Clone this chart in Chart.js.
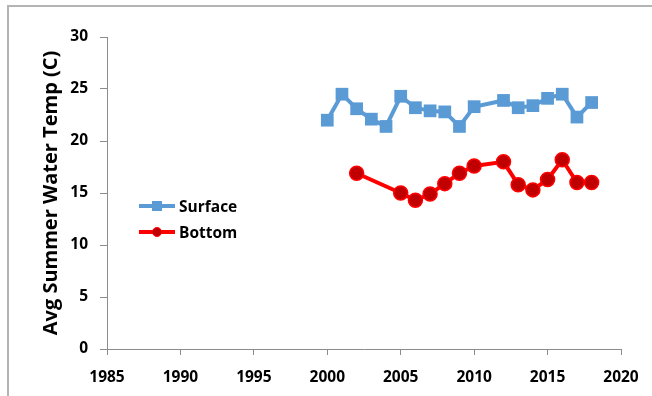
<!DOCTYPE html>
<html>
<head>
<meta charset="utf-8">
<script src="https://cdn.jsdelivr.net/npm/chart.js@4/dist/chart.umd.min.js"></script>
<style>
  html, body { margin: 0; padding: 0; background: #fff; }
  #wrap { position: relative; width: 652px; height: 396px; overflow: hidden; }
  #frame { position: absolute; left: 7px; top: 5px; width: 700px; height: 500px;
           border-top: 2px solid #b4b4b4; border-left: 2px solid #b4b4b4; }
  #mycanvas { position: absolute; left: 0; top: 0; }
  #legend { position: absolute; left: 139px; top: 193px; font-family: "Open Sans", sans-serif;
            font-weight: bold; font-size: 15.5px; color: #000; }
  .item { height: 26px; display: flex; align-items: center; }
  .sym { position: relative; width: 36px; height: 14px; margin-right: 4px; }
  .sym .ln { position: absolute; left: 0; right: 0; top: 5px; height: 4px; }
  .sym .mk { position: absolute; left: 13px; top: 2px; width: 10px; height: 10px; }
</style>
</head>
<body>
<div id="wrap">
  <div id="frame"></div>
  <canvas id="mycanvas" width="652" height="396"></canvas>
  <div id="legend"></div>
</div>
<script>
var surfaceYears = [2000, 2001, 2002, 2003, 2004, 2005, 2006, 2007, 2008, 2009, 2010, 2012, 2013, 2014, 2015, 2016, 2017, 2018];
var surfaceTemps = [22.0, 24.5, 23.1, 22.1, 21.4, 24.3, 23.2, 22.9, 22.8, 21.4, 23.3, 23.9, 23.2, 23.4, 24.1, 24.5, 22.3, 23.7];
var bottomYears = [2002, 2005, 2006, 2007, 2008, 2009, 2010, 2012, 2013, 2014, 2015, 2016, 2017, 2018];
var bottomTemps = [16.9, 15.0, 14.3, 14.9, 15.9, 16.9, 17.6, 18.0, 15.8, 15.3, 16.3, 18.2, 16.0, 16.0];
var xTicks = [1985, 1990, 1995, 2000, 2005, 2010, 2015, 2020];
var yTicks = [0, 5, 10, 15, 20, 25, 30];

function toPoints(xs, ys) {
	var pts = [];
	for (var i in xs) {
		pts.push({x: xs[i], y: ys[i]});
	}
	return pts;
}

var tickFont = {family: "'Open Sans', sans-serif", weight: "bold", size: 15.5};

var chartdata = {
	datasets: [
		{
			label: "Surface",
			data: toPoints(surfaceYears, surfaceTemps),
			borderColor: "#5B9BD5",
			backgroundColor: "#5B9BD5",
			borderWidth: 4,
			pointStyle: "rect",
			pointRadius: 9,
			pointBorderWidth: 0,
			pointBackgroundColor: "#5B9BD5",
			lineTension: 0,
			fill: false
		},
		{
			label: "Bottom",
			data: toPoints(bottomYears, bottomTemps),
			borderColor: "#FF0000",
			backgroundColor: "#C00000",
			borderWidth: 4,
			pointStyle: "circle",
			pointRadius: 7,
			pointBorderWidth: 1.5,
			pointBorderColor: "#FF0000",
			pointBackgroundColor: "#C00000",
			lineTension: 0,
			fill: false
		}
	]
};

var ctx = document.getElementById("mycanvas");

var LineGraph = new Chart(ctx, {
	type: "line",
	data: chartdata,
	options: {
		responsive: false,
		animation: false,
		layout: {padding: {top: 37, right: 31, left: 39, bottom: 0}},
		plugins: {legend: {display: false}, tooltip: {enabled: false}},
		scales: {
			x: {
				type: "linear",
				min: 1985,
				max: 2020,
				afterBuildTicks: function(scale) {
					scale.ticks = xTicks.map(function(v) { return {value: v}; });
				},
				afterFit: function(scale) { scale.height = 47; },
				grid: {drawOnChartArea: false, drawTicks: true, tickLength: 6, color: "#8c8c8c"},
				border: {display: true, color: "#8c8c8c", width: 1},
				ticks: {color: "#000", font: tickFont, padding: 13, maxRotation: 0,
					callback: function(v) { return String(v); }}
			},
			y: {
				min: 0,
				max: 30,
				afterBuildTicks: function(scale) {
					scale.ticks = yTicks.map(function(v) { return {value: v}; });
				},
				afterFit: function(scale) { scale.width = 68; },
				grid: {drawOnChartArea: false, drawTicks: true, tickLength: 7, color: "#8c8c8c"},
				border: {display: true, color: "#8c8c8c", width: 1},
				ticks: {color: "#000", font: tickFont, padding: 12},
				title: {display: true, text: "Avg Summer Water Temp (C)", color: "#000",
					font: {family: "'Open Sans', sans-serif", weight: "bold", size: 20}, padding: 0}
			}
		}
	}
});

// legend built from dataset styles
var legend = document.getElementById("legend");
chartdata.datasets.forEach(function(ds) {
	var item = document.createElement("div");
	item.className = "item";
	var sym = document.createElement("span");
	sym.className = "sym";
	var ln = document.createElement("span");
	ln.className = "ln";
	ln.style.background = ds.borderColor;
	var mk = document.createElement("span");
	mk.className = "mk";
	mk.style.background = ds.pointBackgroundColor;
	if (ds.pointStyle === "circle") {
		mk.style.borderRadius = "50%";
		mk.style.boxSizing = "border-box";
		mk.style.border = "1.5px solid " + ds.pointBorderColor;
	}
	sym.appendChild(ln);
	sym.appendChild(mk);
	var txt = document.createElement("span");
	txt.textContent = ds.label;
	item.appendChild(sym);
	item.appendChild(txt);
	legend.appendChild(item);
});
</script>
</body>
</html>
